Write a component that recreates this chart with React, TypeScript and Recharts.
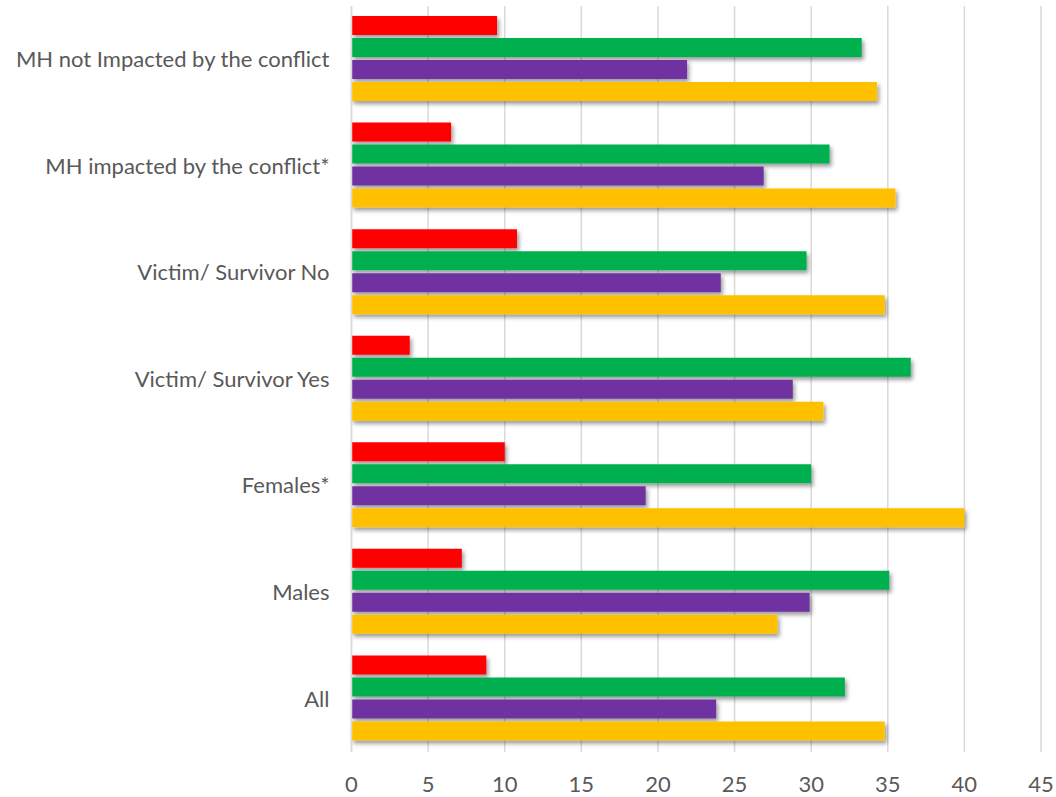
import React from "react";
import { BarChart, Bar, XAxis, YAxis, CartesianGrid, Rectangle } from "recharts";

// Categories, listed top to bottom
const categories = [
  "MH not Impacted by the conflict",
  "MH impacted by the conflict*",
  "Victim/ Survivor No",
  "Victim/ Survivor Yes",
  "Females*",
  "Males",
  "All",
];

// Series values (same order as categories)
const series1 = [9.5, 6.5, 10.8, 3.8, 10.0, 7.2, 8.8];
const series2 = [33.3, 31.2, 29.7, 36.5, 30.0, 35.1, 32.2];
const series3 = [21.9, 26.9, 24.1, 28.8, 19.2, 29.9, 23.8];
const series4 = [34.3, 35.5, 34.8, 30.8, 40.0, 27.8, 34.8];

const xTicks = [0, 5, 10, 15, 20, 25, 30, 35, 40, 45];

const data = categories.map((name, i) => ({
  name,
  s1: series1[i],
  s2: series2[i],
  s3: series3[i],
  s4: series4[i],
}));

const FONT = "Lato, 'Open Sans', sans-serif";
const TEXT = "#595959";

const ShadowBar = (props: any) => <Rectangle {...props} filter="url(#barShadow)" />;

export default function App() {
  return (
    <div style={{ position: "absolute", left: 0, top: 0, width: 1056, height: 797, background: "#fff" }}>
      <svg width={0} height={0} style={{ position: "absolute" }}>
        <defs>
          <filter id="barShadow" x="-5%" y="-30%" width="115%" height="180%">
            <feDropShadow dx="2" dy="3" stdDeviation="2" floodColor="#000" floodOpacity="0.4" />
          </filter>
        </defs>
      </svg>
      <BarChart
        width={1056}
        height={797}
        data={data}
        layout="vertical"
        margin={{ top: 6, right: 15, bottom: 0, left: 0 }}
        barCategoryGap={10}
        barGap={3}
      >
        <CartesianGrid horizontal={false} vertical stroke="#d9d9d9" strokeWidth={1.5} />
        <XAxis
          type="number"
          domain={[0, 45]}
          ticks={xTicks}
          interval={0}
          axisLine={false}
          tickLine={false}
          tickSize={0}
          tickMargin={24}
          height={45}
          tick={{ fill: TEXT, fontSize: 22, fontFamily: FONT }}
        />
        <YAxis
          type="category"
          dataKey="name"
          width={351.5}
          axisLine={{ stroke: "#d9d9d9", strokeWidth: 1.5 }}
          tickLine={false}
          tickSize={0}
          tickMargin={22}
          interval={0}
          tick={{ fill: TEXT, fontSize: 22, fontFamily: FONT }}
        />
        <Bar dataKey="s1" fill="#FF0000" isAnimationActive={false} shape={ShadowBar} />
        <Bar dataKey="s2" fill="#00B050" isAnimationActive={false} shape={ShadowBar} />
        <Bar dataKey="s3" fill="#7030A0" isAnimationActive={false} shape={ShadowBar} />
        <Bar dataKey="s4" fill="#FFC000" isAnimationActive={false} shape={ShadowBar} />
      </BarChart>
    </div>
  );
}
